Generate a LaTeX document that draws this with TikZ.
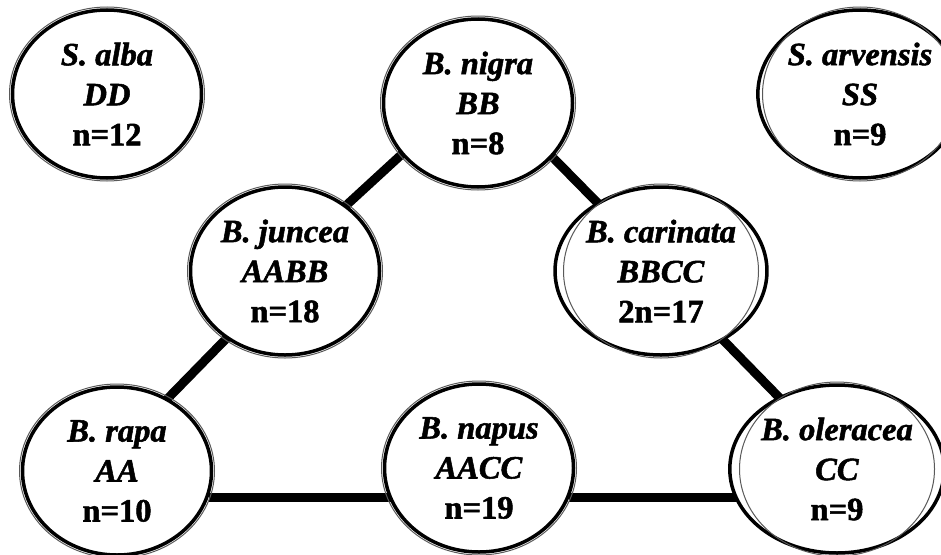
\documentclass[tikz,border=0pt]{standalone}
\usepackage{fontspec}
\setmainfont{Liberation Serif}
\newfontfamily\heavyfont{Liberation Serif}[FakeBold=1.6]
\usetikzlibrary{shapes.geometric,backgrounds}
\begin{document}
\begin{tikzpicture}[x=1pt,y=-1pt,
  sp/.style={ellipse, draw=black, line width=3.5pt, fill=white,
    minimum width=189pt, minimum height=168pt, inner sep=0pt, align=center,
    font=\heavyfont\fontsize{32.5}{40}\selectfont\bfseries},
  ring/.style={line width=1pt, black!65},
  link/.style={line width=9pt, black}]
\useasboundingbox (0,0) rectangle (941,554);
\node[sp] (alba)     at (107,94)  {\textit{S. alba}\\\textit{DD}\\n=12};
\node[sp] (nigra)    at (478,103) {\textit{B. nigra}\\\textit{BB}\\n=8};
\node[sp] (arvensis) at (860,94)  {\textit{S. arvensis}\\\textit{SS}\\n=9};
\node[sp] (juncea)   at (285,271) {\textit{B. juncea}\\\textit{AABB}\\n=18};
\node[sp] (carinata) at (661,271) {\textit{B. carinata}\\\textit{BBCC}\\2n=17};
\node[sp] (rapa)     at (117,471) {\textit{B. rapa}\\\textit{AA}\\n=10};
\node[sp] (napus)    at (479,468) {\textit{B. napus}\\\textit{AACC}\\n=19};
\node[sp] (oleracea) at (837,469) {\textit{B. oleracea}\\\textit{CC}\\n=9};
\foreach \n in {alba,nigra,arvensis,juncea,carinata,rapa,napus,oleracea}
  \draw[ring] (\n.center) ellipse [x radius=97.5pt, y radius=87pt];
\begin{pgfonlayer}{background}
\draw[link, shorten <=-8pt, shorten >=-8pt] (nigra.214) -- (juncea.47);
\draw[link, shorten <=-8pt, shorten >=-8pt] (juncea.229) -- (rapa.55);
\draw[link, shorten <=-8pt, shorten >=-8pt] (nigra.324) -- (carinata.133);
\draw[link, shorten <=-8pt, shorten >=-8pt] (carinata.312) -- (oleracea.129);
\draw[link] (rapa.344) -- (rapa.344 -| napus.center);
\draw[link] (napus.342) -- (napus.342 -| oleracea.center);
\end{pgfonlayer}
\end{tikzpicture}
\end{document}
